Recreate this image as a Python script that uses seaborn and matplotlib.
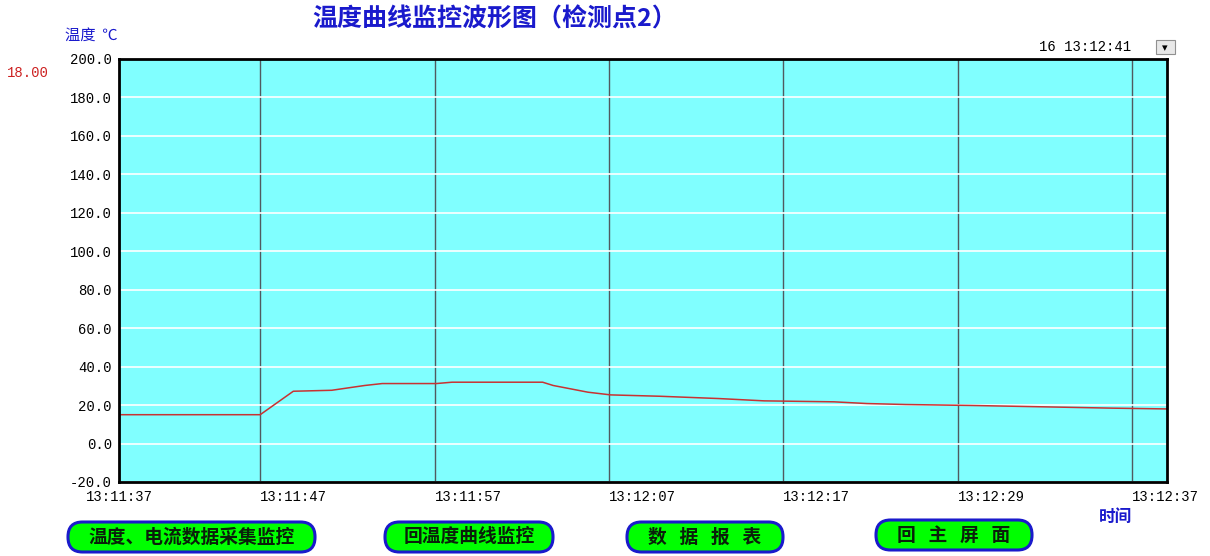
import matplotlib
matplotlib.use("Agg")
import matplotlib.pyplot as plt
from matplotlib.patches import FancyBboxPatch, Rectangle
import pandas as pd
import seaborn as sns

# trend data (seconds since 13:11:37, deg C)
t_sec = [0, 8.1, 10.0, 12.2, 14.1, 15.1, 18.2, 19.1, 24.3, 24.9, 26.9, 28.2,
         31.0, 34.4, 37.0, 41.0, 42.9, 45.1, 48.9, 53.0, 57.0, 60.1]
temp = [15.0, 15.0, 27.2, 27.7, 30.2, 31.2, 31.2, 31.9, 31.9, 30.2, 26.7, 25.3,
        24.6, 23.4, 22.2, 21.7, 20.8, 20.3, 19.8, 19.1, 18.4, 18.0]

tick_sec = [0, 8.1, 18.1, 28.1, 38.1, 48.1, 58.1]
tick_labels = ["13:11:37", "13:11:47", "13:11:57", "13:12:07", "13:12:17", "13:12:29", "13:12:37"]
y_ticks = [-20, 0, 20, 40, 60, 80, 100, 120, 140, 160, 180, 200]
buttons = ["温度、电流数据采集监控", "回温度曲线监控", "数   据   报   表", "回   主   屏   面"]
current_value = "18.00"
current_time = "16 13:12:41"

sns.set_style("white")
plt.rcParams['font.family'] = ['Noto Sans CJK SC', 'DejaVu Sans']
MONO = ['Liberation Mono', 'DejaVu Sans Mono']
BLUE = "#1a1acc"

df = pd.DataFrame({"t": t_sec, "temp": temp})

fig = plt.figure(figsize=(12.1, 5.56), dpi=100)
ax = fig.add_axes([0.0983, 0.1331, 0.8661, 0.7608])
ax.set_facecolor("#80ffff")

sns.lineplot(data=df, x="t", y="temp", ax=ax, color="#c83232", lw=1.1)

ax.set_xlim(0, 60.1)
ax.set_ylim(-20, 200)
ax.set_yticks(y_ticks, [f"{v:.1f}" for v in y_ticks])
ax.set_xticks(tick_sec, tick_labels)
ax.set_xlabel("")
ax.set_ylabel("")

ax.yaxis.grid(True, color="white", lw=1.2)
ax.xaxis.grid(True, color="#505a60", lw=1.0)
ax.set_axisbelow(True)
for s in ax.spines.values():
    s.set_color("black")
    s.set_linewidth(2)

ax.tick_params(axis="both", length=0, labelsize=10, colors="black")
ax.tick_params(axis="y", pad=5)
ax.tick_params(axis="x", pad=6)
for lab in ax.get_yticklabels() + ax.get_xticklabels():
    lab.set_family(MONO)
for i, lab in enumerate(ax.get_xticklabels()):
    lab.set_horizontalalignment("center" if i == 0 else "left")

# header texts
fig.text(0.409, 0.966, "温度曲线监控波形图（检测点2）", ha="center", va="center",
         fontsize=18, fontweight="bold", color=BLUE)
fig.text(0.054, 0.937, "温度  ℃", ha="left", va="center", fontsize=11, color=BLUE)
fig.text(0.006, 0.869, current_value, ha="left", va="center", fontsize=10,
         color="#cc2020", family=MONO)
fig.text(0.859, 0.916, current_time, ha="left", va="center", fontsize=10,
         color="black", family=MONO)
fig.patches.append(Rectangle((0.955, 0.903), 0.016, 0.025, transform=fig.transFigure,
                             facecolor="#e8e8e8", edgecolor="#909090", lw=0.8))
fig.text(0.963, 0.914, "▾", ha="center", va="center", fontsize=8, color="black",
         family=['DejaVu Sans'])
fig.text(0.922, 0.071, "时间", ha="center", va="center", fontsize=12,
         fontweight="bold", color=BLUE)

# buttons along the bottom
btn_x = [(68, 315), (385, 553), (627, 783), (876, 1032)]
btn_y = [(522, 552), (522, 552), (522, 552), (520, 550)]
W, H = 1210, 556
for label, (x0, x1), (y0, y1) in zip(buttons, btn_x, btn_y):
    fx0, fx1 = x0 / W, x1 / W
    fy0, fy1 = 1 - y1 / H, 1 - y0 / H
    fig.patches.append(FancyBboxPatch((fx0, fy0), fx1 - fx0, fy1 - fy0,
                                      boxstyle="round,pad=0,rounding_size=0.012",
                                      transform=fig.transFigure, facecolor="#00ff00",
                                      edgecolor="#1a1acc", lw=2.2, mutation_aspect=2.2))
    fig.text((fx0 + fx1) / 2, (fy0 + fy1) / 2, label, ha="center", va="center",
             fontsize=13.5, fontweight="bold", color="#0a200a")

fig.savefig("out.png", dpi=100, facecolor="white")
